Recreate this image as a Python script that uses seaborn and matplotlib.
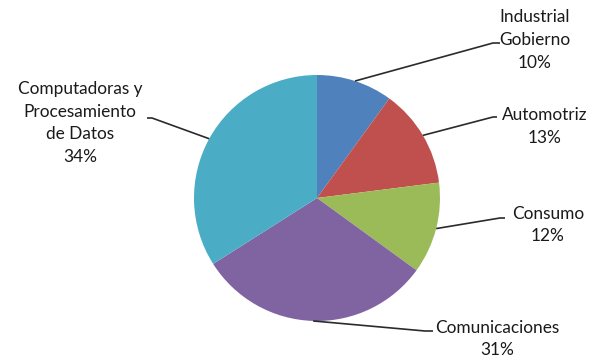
import numpy as np
import matplotlib
matplotlib.use("Agg")
import matplotlib.pyplot as plt
import seaborn as sns

sns.set_style("white")
plt.rcParams['font.family'] = ['Lato', 'DejaVu Sans']

categories = ["Industrial\nGobierno", "Automotriz", "Consumo", "Comunicaciones",
              "Computadoras y\nProcesamiento\nde Datos"]
values = [10, 13, 12, 31, 34]
colors = ["#4F81BD", "#C0504D", "#9BBB59", "#8064A2", "#4BACC6"]

W, H = 594, 360
fig = plt.figure(figsize=(W / 100, H / 100), dpi=100)
ax = fig.add_axes([0, 0, 1, 1])

cx, cy, r = 317, H - 198, 123
wedges, _ = ax.pie(values, colors=sns.color_palette(colors), startangle=90,
                   counterclock=False, center=(cx, cy), radius=r,
                   wedgeprops=dict(linewidth=0), frame=True)
ax.set_xlim(0, W)
ax.set_ylim(0, H)
ax.set_aspect('equal')
ax.axis('off')

# label layout (pixel coords from top-left): elbow point, line end, text center
layout = [
    ((493, 43), (500, 43), (535, 40)),
    ((493, 117), (497, 117), (545, 126.5)),
    ((500, 218), (505, 218), (548, 225)),
    ((425, 331), (433, 331), (497, 339)),
    ((152, 118), (147, 118), (80, 123)),
]

total = sum(values)
for w, cat, v, (elb, end, tc) in zip(wedges, categories, values, layout):
    mid = np.deg2rad((w.theta1 + w.theta2) / 2)
    ex, ey = cx + r * np.cos(mid), cy + r * np.sin(mid)
    ax.plot([ex, elb[0], end[0]], [ey, H - elb[1], H - end[1]],
            color="#2b2b2b", lw=1.2, solid_capstyle='butt')
    ax.text(tc[0], H - tc[1], f"{cat}\n{round(100 * v / total)}%",
            ha='center', va='center', fontsize=12.4, color="#1a1a1a",
            linespacing=1.5)

fig.savefig("out.png", dpi=100)
